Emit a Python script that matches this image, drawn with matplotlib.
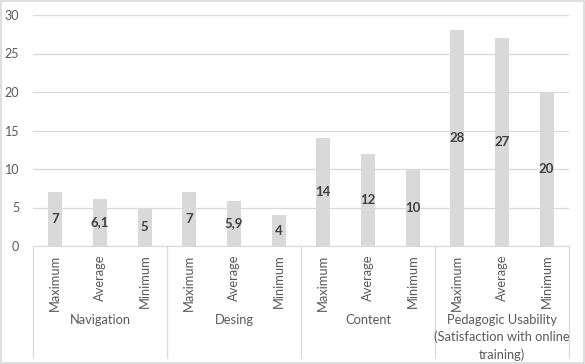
import matplotlib
matplotlib.use("Agg")
from matplotlib import pyplot as plt
from matplotlib.patches import Rectangle
import numpy as np

plt.rcParams['font.family'] = ['Lato', 'DejaVu Sans']

groups = ['Navigation', 'Desing', 'Content',
          'Pedagogic Usability\n(Satisfaction with online\ntraining)']
stats = ['Maximum', 'Average', 'Minimum']
values = [7, 6.1, 5, 7, 5.9, 4, 14, 12, 10, 28, 27, 20]
value_labels = ['7', '6,1', '5', '7', '5,9', '4', '14', '12', '10', '28', '27', '20']

grey = '#D9D9D9'
txt = '#595959'

fig = plt.figure(figsize=(5.85, 3.64), dpi=100)
ax = fig.add_axes([33/585, 118/364, 536/585, 231/364])

x = np.arange(len(values))
ax.bar(x, values, width=0.31, color=grey, zorder=2)
for xi, v, lab in zip(x, values, value_labels):
    ax.text(xi, v / 2, lab, ha='center', va='center', fontsize=9.5,
            fontweight='bold', color='#404040', zorder=3)

ax.set_xlim(-0.5, len(values) - 0.5)
ax.set_ylim(0, 30)
ax.set_yticks(range(0, 31, 5))
ax.tick_params(axis='y', length=0, labelsize=9, colors=txt, pad=10)
ax.grid(axis='y', color=grey, linewidth=0.9, zorder=0)
for s in ['top', 'right', 'left']:
    ax.spines[s].set_visible(False)
ax.spines['bottom'].set_color(grey)

ax.set_xticks(x)
ax.set_xticklabels(stats * len(groups), rotation=90, fontsize=9.3, color=txt)
ax.tick_params(axis='x', length=0, pad=6)

# group separators and group names below the axis
trans = ax.get_xaxis_transform()
for k in range(len(groups) + 1):
    ax.plot([k * 3 - 0.5, k * 3 - 0.5], [0, -0.485], transform=trans,
            color=grey, linewidth=0.9, clip_on=False)
for k, g in enumerate(groups):
    ax.text(k * 3 + 1, -0.295, g, transform=trans, ha='center', va='top',
            fontsize=9.3, color=txt, linespacing=1.45)

fig.patches.append(Rectangle((0.002, 0.003), 0.996, 0.994, transform=fig.transFigure,
                             fill=False, edgecolor=grey, linewidth=1.2))

fig.savefig('out.png', dpi=100)
